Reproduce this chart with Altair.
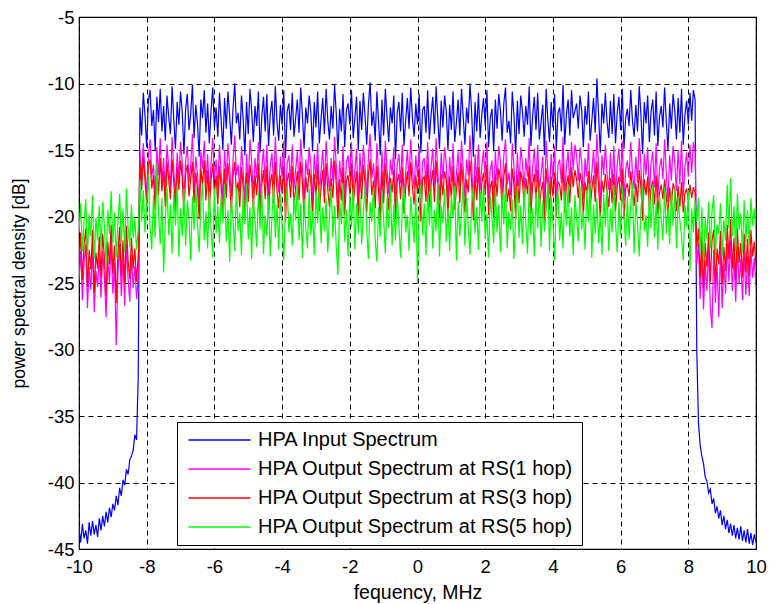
import altair as alt
import pandas as pd

series_names = [
    "HPA Input Spectrum",
    "HPA Output Spectrum at RS(1 hop)",
    "HPA Output Spectrum at RS(3 hop)",
    "HPA Output Spectrum at RS(5 hop)",
]
series_colors = ["#0000ff", "#ff00ff", "#ff0000", "#00ff00"]

# frequency grid, MHz (-10 .. 10, step 0.05)
freq_mhz = [round(-10 + 0.05 * i, 2) for i in range(401)]

x_ticks = [-10, -8, -6, -4, -2, 0, 2, 4, 6, 8, 10]
y_ticks = [-45, -40, -35, -30, -25, -20, -15, -10, -5]

blue_db = [
    # -10.00 .. -8.25
    -43.4, -44.5, -43.1, -44.2, -43.6, -44.6, -43.0, -44.0, -42.9, -43.9,
    -43.2, -44.1, -42.7, -43.6, -42.5, -43.3, -42.2, -43.0, -41.9, -42.6,
    -41.6, -42.1, -41.0, -41.7, -40.4, -41.0, -39.8, -40.2, -39.0, -39.4,
    -38.3, -38.0, -37.6, -36.4, -36.8, -32.0,
    # -8.20 .. 8.20
    -11.8, -13.9, -10.7, -12.4, -14.8, -11.3, -10.5, -13.2, -12.0, -15.1,
    -11.0, -12.9, -10.4, -13.6, -11.7, -14.3, -10.9, -12.5, -13.8, -10.2,
    -12.7, -14.9, -11.4, -13.1, -10.6, -12.2, -15.3, -11.9, -10.8, -13.5,
    -12.3, -10.1, -14.1, -11.6, -13.0, -15.5, -11.2, -12.6, -10.5, -13.7,
    -11.5, -14.5, -12.1, -10.3, -13.3, -11.8, -14.0, -10.7, -12.8, -15.0,
    -11.1, -13.4, -10.6, -12.4, -14.6, -11.9, -10.0, -13.0, -12.2, -14.2,
    -10.9, -12.7, -15.4, -11.4, -13.8, -10.4, -12.0, -14.4, -11.7, -13.2,
    -10.6, -15.2, -12.5, -11.0, -13.6, -10.8, -14.7, -12.3, -11.3, -13.9,
    -10.2, -12.9, -14.3, -11.6, -13.1, -10.5, -15.6, -12.1, -11.5, -13.5,
    -10.7, -14.0, -12.6, -11.2, -13.7, -10.3, -12.4, -14.9, -11.8, -13.0,
    -10.9, -12.2, -15.1, -11.4, -13.3, -10.6, -14.5, -12.7, -11.1, -13.8,
    -10.4, -12.8, -14.2, -11.7, -13.4, -10.1, -12.3, -15.3, -11.9, -13.6,
    -10.8, -14.8, -12.0, -11.5, -13.1, -10.5, -14.1, -12.6, -11.0, -15.0,
    -11.3, -13.5, -10.7, -12.4, -14.6, -11.6, -9.9, -13.2, -12.1, -14.3,
    -10.6, -12.9, -15.4, -11.2, -13.9, -10.4, -12.5, -14.4, -11.8, -13.0,
    -10.9, -15.7, -12.2, -11.4, -13.6, -10.7, -14.7, -12.8, -11.1, -13.4,
    -10.3, -12.6, -14.0, -11.5, -13.1, -10.8, -15.2, -12.0, -11.7, -13.7,
    -10.5, -14.2, -12.4, -11.0, -13.8, -10.2, -12.7, -14.9, -11.3, -13.3,
    -10.9, -12.1, -15.0, -11.6, -13.5, -10.6, -14.4, -12.9, -11.2, -13.9,
    -10.4, -12.5, -14.6, -11.8, -13.0, -10.0, -12.2, -15.5, -11.4, -13.6,
    -10.7, -14.1, -12.3, -11.1, -13.2, -10.5, -14.8, -12.6, -11.9, -15.1,
    -11.2, -13.4, -10.8, -12.0, -14.3, -11.5, -10.3, -13.7, -12.8, -14.5,
    -10.6, -12.4, -15.3, -11.3, -13.8, -10.9, -12.1, -14.0, -11.7, -13.1,
    -10.2, -14.7, -12.5, -11.0, -13.5, -10.7, -14.2, -12.9, -11.6, -15.4,
    -10.4, -12.7, -14.4, -11.4, -13.3, -10.8, -15.0, -12.2, -11.8, -13.6,
    -10.1, -14.6, -12.3, -11.2, -13.9, -10.5, -12.6, -12.1, -11.5, -13.4,
    -10.9, -12.0, -14.8, -11.7, -13.1, -10.6, -14.3, -12.8, -11.1, -13.7,
    -9.6, -12.4, -15.2, -11.5, -13.0, -10.7, -12.9, -14.1, -11.3, -13.8,
    -10.8, -14.5, -12.2, -11.0, -13.5, -10.4, -14.9, -12.6, -11.9, -13.2,
    -10.5, -12.8, -14.0, -11.6, -13.6, -10.2, -12.3, -15.3, -11.4, -13.0,
    -10.9, -14.4, -12.1, -11.2, -13.9, -10.6, -14.7, -12.5, -11.7, -13.3,
    -10.3, -12.9, -15.0, -11.5, -13.4, -10.8, -12.0, -14.2, -11.1, -13.7,
    -10.4, -14.6, -12.4, -11.3, -13.1, -10.7, -12.8, -10.5, -11.2,
    # 8.25 .. 10.00
    -30.0, -35.5, -37.2, -38.0, -38.6, -39.6, -39.9, -40.8, -40.5, -41.6,
    -41.2, -42.3, -41.8, -42.7, -42.1, -43.2, -42.5, -43.5, -42.8, -43.8,
    -43.1, -44.0, -43.2, -44.2, -43.4, -44.3, -43.3, -44.4, -43.6, -44.5,
    -43.5, -44.6, -43.8, -44.7, -43.9, -44.5,
]

magenta_db = [
    # -10.00 .. -8.25
    -24.8, -22.6, -26.3, -23.4, -22.1, -26.9, -23.8, -25.5, -22.3, -27.2,
    -24.1, -25.3, -22.8, -26.1, -22.6, -24.6, -27.6, -23.2, -25.0, -21.9,
    -25.8, -23.5, -29.7, -24.2, -22.1, -26.0, -23.1, -26.7, -22.0, -24.7,
    -26.4, -22.9, -25.4, -23.7, -26.2, -24.4,
    # -8.20 .. 8.20
    -15.0, -17.2, -14.5, -16.6, -18.3, -15.4, -14.2, -17.0, -16.1, -18.7,
    -14.8, -16.9, -14.1, -17.5, -15.6, -18.1, -14.6, -16.3, -17.8, -14.0,
    -16.5, -18.6, -15.2, -17.1, -14.4, -16.0, -18.9, -15.8, -14.7, -17.4,
    -16.2, -13.8, -18.0, -15.5, -16.8, -19.1, -15.1, -16.4, -14.3, -17.6,
    -15.3, -18.4, -16.0, -14.1, -17.2, -15.7, -17.9, -14.6, -16.7, -18.8,
    -15.0, -17.3, -14.5, -16.2, -18.5, -15.8, -13.9, -16.9, -16.1, -18.2,
    -14.7, -16.6, -19.0, -15.3, -17.7, -14.2, -15.9, -18.3, -15.6, -17.1,
    -14.4, -18.9, -16.4, -14.9, -17.5, -14.6, -18.6, -16.2, -15.2, -17.8,
    -14.0, -16.8, -18.2, -15.5, -17.0, -14.3, -19.2, -16.0, -15.4, -17.4,
    -14.6, -17.9, -16.5, -15.1, -17.6, -14.2, -16.3, -18.8, -15.7, -16.9,
    -14.8, -16.1, -18.9, -15.3, -17.2, -14.5, -18.4, -16.6, -15.0, -17.7,
    -14.3, -16.7, -18.1, -15.6, -17.3, -14.0, -16.2, -19.0, -15.8, -17.5,
    -14.7, -18.7, -15.9, -15.4, -17.0, -14.4, -18.0, -16.5, -14.9, -18.8,
    -15.2, -17.4, -14.6, -16.3, -18.5, -15.5, -13.8, -17.1, -16.0, -18.2,
    -14.5, -16.8, -19.1, -15.1, -17.8, -14.3, -16.4, -18.3, -15.7, -16.9,
    -14.8, -19.0, -16.1, -15.3, -17.5, -14.6, -18.6, -16.7, -15.0, -17.3,
    -14.2, -16.5, -17.9, -15.4, -17.0, -14.7, -19.1, -15.9, -15.6, -17.6,
    -14.4, -18.1, -16.3, -14.9, -17.7, -14.1, -16.6, -18.8, -15.2, -17.2,
    -14.8, -16.0, -18.9, -15.5, -17.4, -14.5, -18.3, -16.8, -15.1, -17.8,
    -14.3, -16.4, -18.5, -15.7, -16.9, -13.9, -16.1, -19.2, -15.3, -17.5,
    -14.6, -18.0, -16.2, -15.0, -17.1, -14.4, -18.7, -16.5, -15.8, -18.9,
    -15.1, -17.3, -14.7, -15.9, -18.2, -15.4, -14.2, -17.6, -16.7, -18.4,
    -14.5, -16.3, -19.0, -15.2, -17.7, -14.8, -16.0, -17.9, -15.6, -17.0,
    -14.1, -18.6, -16.4, -14.9, -17.4, -14.6, -18.1, -16.8, -15.5, -19.1,
    -14.3, -16.6, -18.3, -15.3, -17.2, -14.7, -18.9, -16.1, -15.7, -17.5,
    -14.0, -18.5, -16.2, -15.1, -17.8, -14.4, -16.5, -14.6, -15.4, -17.3,
    -14.8, -15.9, -18.7, -15.6, -17.0, -14.5, -18.2, -16.7, -15.0, -17.6,
    -13.8, -16.3, -19.0, -15.4, -16.9, -14.6, -16.8, -18.0, -15.2, -17.7,
    -14.7, -18.4, -16.1, -14.9, -17.4, -14.3, -18.8, -16.5, -15.8, -17.1,
    -14.4, -16.7, -17.9, -15.5, -17.5, -14.1, -16.2, -19.2, -15.3, -16.9,
    -14.8, -18.3, -16.0, -15.1, -17.8, -14.5, -18.6, -16.4, -15.6, -17.2,
    -14.2, -16.8, -18.9, -15.4, -17.3, -14.7, -15.9, -18.1, -15.0, -17.6,
    -14.3, -18.5, -16.3, -15.2, -17.0, -14.6, -16.7, -14.4, -15.1,
    # 8.25 .. 10.00
    -23.6, -22.0, -26.2, -22.7, -27.0, -23.3, -25.6, -22.4, -26.8, -28.4,
    -22.5, -26.5, -23.6, -27.6, -22.3, -26.9, -23.5, -25.8, -22.0, -24.9,
    -21.8, -25.6, -22.9, -26.4, -22.2, -25.1, -23.2, -26.3, -22.6, -25.9,
    -23.0, -26.0, -22.4, -24.6, -23.1, -25.3,
]

red_db = [
    # -10.00 .. -8.25
    -23.4, -21.2, -24.8, -22.1, -20.9, -25.3, -22.5, -24.0, -21.0, -25.8,
    -22.7, -23.9, -21.5, -24.6, -21.3, -23.1, -26.0, -21.9, -23.6, -20.6,
    -24.3, -22.2, -26.5, -22.8, -20.8, -24.5, -21.8, -25.1, -20.7, -23.3,
    -24.7, -21.6, -23.9, -22.4, -24.9, -23.0,
    # -8.20 .. 8.20
    -15.8, -18.0, -15.5, -17.3, -19.2, -16.2, -15.7, -17.9, -16.9, -19.5,
    -16.0, -18.4, -15.6, -18.1, -16.6, -19.3, -15.9, -17.2, -18.7, -15.7,
    -17.4, -19.6, -16.3, -18.0, -15.8, -17.1, -19.9, -16.8, -16.1, -18.5,
    -17.2, -15.9, -19.0, -16.7, -17.9, -20.2, -16.4, -17.6, -15.8, -18.8,
    -16.5, -19.4, -17.3, -16.0, -18.3, -16.9, -19.1, -16.2, -17.8, -20.0,
    -16.4, -18.6, -16.0, -17.5, -19.7, -17.0, -15.9, -18.2, -17.4, -19.3,
    -16.3, -17.8, -20.3, -16.7, -18.9, -16.1, -17.2, -19.5, -16.9, -18.4,
    -16.0, -20.1, -17.6, -16.5, -18.7, -16.2, -19.8, -17.4, -16.8, -19.0,
    -15.9, -18.1, -19.4, -16.9, -18.3, -16.2, -20.4, -17.3, -16.7, -18.6,
    -16.2, -19.2, -17.8, -16.6, -18.8, -15.9, -17.5, -20.0, -17.0, -18.2,
    -16.4, -17.4, -20.1, -16.8, -18.5, -16.1, -19.6, -17.9, -16.5, -19.0,
    -16.0, -18.0, -19.3, -17.1, -18.6, -15.8, -17.6, -20.2, -17.2, -18.8,
    -16.3, -19.9, -17.3, -16.9, -18.3, -16.0, -19.2, -17.7, -16.6, -20.0,
    -16.7, -18.7, -16.1, -17.5, -19.7, -16.9, -15.7, -18.4, -17.3, -19.4,
    -16.2, -18.1, -20.3, -16.6, -19.0, -16.0, -17.7, -19.5, -17.1, -18.2,
    -16.5, -20.2, -17.4, -16.8, -18.7, -16.3, -19.8, -17.9, -16.6, -18.5,
    -15.9, -17.8, -19.1, -16.9, -18.3, -16.4, -20.4, -17.2, -17.0, -18.9,
    -16.1, -19.3, -17.6, -16.5, -18.9, -15.8, -17.9, -20.1, -16.8, -18.4,
    -16.6, -17.3, -20.0, -17.0, -18.6, -16.2, -19.5, -18.0, -16.7, -19.0,
    -16.0, -17.7, -19.7, -17.2, -18.2, -15.8, -17.4, -20.3, -16.9, -18.8,
    -16.3, -19.2, -17.5, -16.7, -18.4, -16.1, -19.9, -17.8, -17.3, -20.1,
    -16.8, -18.5, -16.4, -17.2, -19.4, -17.0, -16.0, -18.9, -17.9, -19.6,
    -16.4, -17.6, -20.2, -16.9, -19.0, -16.6, -17.3, -19.1, -17.1, -18.3,
    -16.2, -19.8, -17.7, -16.8, -18.7, -16.5, -19.3, -18.1, -17.4, -20.3,
    -16.4, -17.9, -19.5, -17.0, -18.5, -16.7, -20.0, -17.4, -17.6, -18.8,
    -16.0, -19.7, -17.6, -16.9, -19.0, -16.3, -17.8, -16.5, -17.2, -18.6,
    -16.7, -17.5, -19.9, -17.4, -18.3, -16.6, -19.4, -18.0, -16.9, -18.9,
    -15.9, -17.8, -20.1, -17.3, -18.2, -16.8, -18.1, -19.3, -17.1, -19.0,
    -16.8, -19.6, -17.7, -17.0, -18.8, -16.4, -20.2, -17.9, -17.5, -18.5,
    -16.6, -18.0, -19.2, -17.5, -18.9, -16.5, -17.8, -20.3, -17.2, -18.4,
    -17.0, -19.5, -17.9, -17.3, -19.1, -16.9, -19.8, -18.2, -17.6, -18.7,
    -17.2, -18.5, -20.0, -17.8, -19.2, -17.5, -18.0, -19.6, -17.7, -19.3,
    -17.4, -19.7, -18.3, -17.9, -18.8, -17.6, -18.6, -17.8, -18.2,
    # 8.25 .. 10.00
    -22.3, -20.9, -24.6, -21.5, -25.4, -22.0, -23.8, -21.2, -24.9, -21.8,
    -21.0, -25.1, -22.4, -23.6, -21.1, -25.0, -22.3, -24.1, -20.6, -23.2,
    -20.2, -23.9, -21.6, -24.8, -20.9, -23.5, -22.0, -24.6, -21.3, -24.2,
    -21.7, -24.5, -21.0, -23.0, -21.9, -23.7,
]

green_db = [
    # -10.00 .. -8.25
    -21.2, -19.0, -22.6, -20.3, -18.7, -22.9, -19.8, -21.5, -18.4, -23.2,
    -20.1, -21.8, -19.2, -22.4, -18.9, -20.7, -23.6, -19.5, -21.3, -18.1,
    -22.0, -19.7, -23.1, -20.4, -18.3, -21.9, -19.4, -22.7, -17.9, -20.8,
    -22.3, -19.1, -21.6, -20.2, -22.5, -21.0,
    # -8.20 .. 8.20
    -17.3, -20.4, -18.0, -21.2, -19.3, -16.9, -20.9, -22.5, -18.4, -21.6,
    -16.0, -19.8, -22.1, -18.6, -24.2, -20.3, -17.8, -21.4, -19.1, -22.8,
    -18.2, -20.7, -17.6, -23.0, -19.4, -21.5, -17.9, -22.2, -18.8, -20.1,
    -23.3, -18.5, -21.0, -17.7, -20.6, -22.7, -19.0, -17.5, -21.8, -19.6,
    -22.4, -18.1, -20.8, -23.1, -17.9, -21.3, -19.2, -22.0, -18.3, -20.5,
    -17.6, -21.9, -19.5, -23.4, -18.7, -20.2, -22.6, -17.8, -21.1, -19.7,
    -22.9, -18.0, -20.6, -17.5, -21.7, -19.3, -23.2, -18.6, -20.4, -22.3,
    -18.2, -21.0, -17.7, -22.8, -19.9, -21.5, -18.4, -23.0, -20.0, -17.6,
    -21.6, -19.1, -22.5, -18.3, -20.7, -23.3, -19.4, -17.8, -21.2, -19.8,
    -22.2, -18.5, -20.3, -17.4, -21.8, -19.0, -23.1, -18.7, -20.9, -22.4,
    -17.9, -21.4, -19.6, -22.9, -18.1, -20.5, -17.6, -22.0, -19.3, -21.1,
    -18.6, -22.7, -20.0, -17.7, -21.6, -19.2, -22.3, -24.4, -18.8, -20.6,
    -17.5, -21.9, -19.5, -23.0, -18.2, -20.8, -17.9, -22.5, -19.0, -21.3,
    -18.4, -22.1, -19.7, -17.6, -21.0, -23.2, -18.9, -20.4, -17.8, -21.7,
    -23.4, -19.3, -21.5, -18.0, -20.2, -22.8, -18.6, -20.9, -17.5, -22.2,
    -19.1, -21.8, -18.3, -20.6, -23.1, -19.4, -17.7, -21.2, -19.9, -22.6,
    -18.5, -20.3, -22.0, -18.1, -25.0, -19.6, -17.6, -21.4, -19.0, -22.9,
    -18.2, -20.7, -17.8, -22.4, -19.5, -21.1, -17.4, -23.0, -19.2, -20.5,
    -17.9, -21.9, -19.4, -22.6, -18.4, -20.1, -17.7, -23.3, -18.9, -21.5,
    -19.7, -17.5, -22.2, -18.6, -20.8, -22.9, -19.0, -17.8, -21.3, -19.3,
    -22.5, -18.1, -20.4, -17.6, -21.7, -19.8, -23.1, -18.5, -20.0, -22.0,
    -17.9, -21.2, -19.1, -22.7, -18.3, -20.6, -17.5, -22.4, -19.6, -21.0,
    -18.7, -23.2, -19.9, -17.7, -21.6, -19.2, -22.1, -18.0, -20.5, -22.8,
    -17.6, -21.4, -19.4, -23.0, -18.2, -20.9, -17.8, -22.3, -18.8, -21.1,
    -19.5, -17.4, -22.6, -18.5, -20.3, -23.3, -19.0, -17.9, -21.8, -19.7,
    -22.4, -18.1, -20.7, -17.6, -21.5, -19.3, -22.9, -18.4, -20.1, -21.9,
    -17.7, -21.0, -19.6, -22.5, -18.0, -20.4, -17.5, -23.1, -19.1, -21.3,
    -18.6, -22.0, -19.8, -22.9, -18.3, -20.8, -17.9, -22.6, -19.4, -21.2,
    -17.6, -20.5, -22.7, -18.9, -21.4, -17.8, -20.0, -22.2, -18.5, -21.7,
    -19.2, -17.5, -22.8, -18.7, -20.6, -23.0, -19.5, -17.7, -21.1, -19.9,
    -22.3, -18.2, -20.9, -17.6, -21.6, -19.0, -22.5, -18.4, -20.2, -21.8,
    -17.8, -21.3, -19.3, -22.1, -18.1, -20.7, -17.9, -22.4, -18.6, -20.3,
    -21.5, -23.3, -19.1, -20.8, -18.0, -24.1, -19.4, -21.2, -18.8,
    # 8.25 .. 10.00
    -20.4, -18.6, -22.8, -19.3, -23.5, -20.1, -21.7, -18.9, -22.4, -19.6,
    -18.4, -22.9, -20.6, -21.3, -19.0, -23.0, -20.2, -21.8, -17.6, -20.9,
    -17.1, -21.5, -19.2, -22.6, -18.3, -21.0, -19.8, -22.7, -18.8, -21.9,
    -19.5, -22.2, -18.6, -20.7, -19.4, -21.4,
]

series_values = [blue_db, magenta_db, red_db, green_db]

rows = []
for name, vals in zip(series_names, series_values):
    for f, v in zip(freq_mhz, vals):
        rows.append({"series": name, "freq": f, "psd": v})
df = pd.DataFrame(rows)

FONT = "Liberation Sans"

legend = alt.Legend(
    orient="none",
    legendX=98,
    legendY=405,
    title=None,
    symbolType="M-6,0H6",
    symbolSize=107,
    symbolStrokeWidth=1.5,
    symbolOffset=24.5,
    labelFont=FONT,
    labelFontSize=20,
    labelColor="black",
    labelOffset=28.5,
    rowPadding=9,
    padding=8,
    strokeColor="black",
    fillColor="white",
    cornerRadius=0,
    labelLimit=500,
)

x_enc = alt.X(
    "freq:Q",
    scale=alt.Scale(domain=[-10, 10], nice=False, zero=False),
    axis=alt.Axis(values=x_ticks, title="fequency, MHz", labelExpr="'' + datum.value",
                  labelFlush=False, labelPadding=8.5, titlePadding=7,
                  labelFontSize=18.5, titleFontSize=19.5),
)
y_enc = alt.Y(
    "psd:Q",
    scale=alt.Scale(domain=[-45, -5], nice=False, zero=False),
    axis=alt.Axis(values=y_ticks, title="power spectral density [dB]", labelExpr="'' + datum.value",
                  labelFlush=False, labelPadding=5, titlePadding=19,
                  labelFontSize=18.5, titleFontSize=17.5),
)
color_enc = alt.Color(
    "series:N",
    scale=alt.Scale(domain=series_names, range=series_colors),
    legend=legend,
)

base = alt.Chart(df)
layers = []
for name in series_names:
    layers.append(
        base.transform_filter(alt.datum.series == name)
        .mark_line(strokeWidth=1.2, clip=True)
        .encode(x=x_enc, y=y_enc, color=color_enc)
    )

chart = (
    alt.layer(*layers)
    .properties(
        width=677,
        height=532,
        autosize=alt.AutoSizeParams(type="none"),
        padding={"left": 79, "top": 17, "right": 13, "bottom": 55},
        background="white",
    )
    .configure_view(stroke="black", strokeWidth=1.2)
    .configure_axis(
        grid=True,
        gridColor="black",
        gridDash=[5, 4],
        gridOpacity=1,
        gridWidth=1,
        domain=False,
        ticks=False,
        labelFont=FONT,
        labelColor="black",
        titleFont=FONT,
        titleFontWeight="normal",
        titleColor="black",
    )
)

chart.save("out.html", embed_options={"renderer": "svg", "actions": False})
